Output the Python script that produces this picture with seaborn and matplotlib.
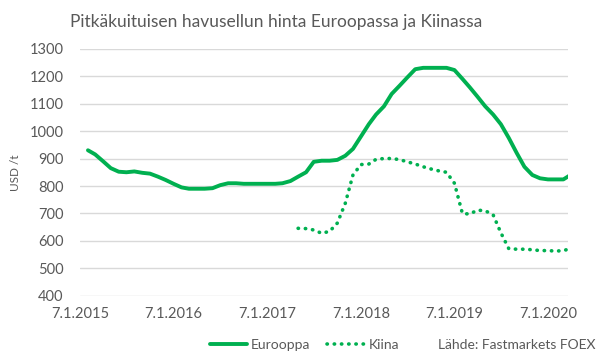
import pandas as pd
import matplotlib.pyplot as plt
import seaborn as sns

# Kuukausiarvot, USD/t (luettu kuvasta)
eurooppa_alku = '2015-01-07'
eurooppa = [930, 915, 890, 865, 852, 850, 853, 848, 845, 834, 822, 808,
            795, 790, 790, 790, 792, 803, 810, 810, 808, 808, 808, 808,
            808, 810, 818, 834, 850, 888, 892, 892, 895, 910, 935, 980,
            1025, 1060, 1090, 1135, 1165, 1195, 1225, 1230, 1230, 1230, 1230, 1222,
            1190, 1160, 1125, 1090, 1060, 1025, 975, 920, 870, 840, 828, 824,
            824, 824, 842]

kiina_alku = '2017-04-07'
kiina = [646, 645, 640, 628, 635, 665, 737, 840, 878,
         880, 897, 900, 900, 896, 888, 880, 870, 862, 855, 850, 810,
         700, 698, 712, 710, 695, 630, 572, 570, 570, 568, 565, 565,
         563, 565, 573]

tick_vuodet = [2015, 2016, 2017, 2018, 2019, 2020]

vihrea = '#00b050'
harmaa = '#595959'

df_eu = pd.DataFrame({'pvm': pd.date_range(eurooppa_alku, periods=len(eurooppa), freq='MS') + pd.Timedelta(days=6),
                      'hinta': eurooppa})
df_cn = pd.DataFrame({'pvm': pd.date_range(kiina_alku, periods=len(kiina), freq='MS') + pd.Timedelta(days=6),
                      'hinta': kiina})

sns.set_style('white')
plt.rcParams['font.family'] = ['Lato', 'DejaVu Sans']

fig = plt.figure(figsize=(5.98, 3.6), dpi=100)
ax = fig.add_axes([0.1338, 0.178, 0.816, 0.687])

sns.lineplot(data=df_eu, x='pvm', y='hinta', ax=ax, color=vihrea, linewidth=2.8,
             label='Eurooppa')
sns.lineplot(data=df_cn, x='pvm', y='hinta', ax=ax, color=vihrea, linewidth=2.6,
             label='Kiina')
cn_line = ax.lines[-1]
cn_line.set_linestyle((0, (0.1, 1.9)))
cn_line.set_dash_capstyle('round')

ax.set_ylim(400, 1300)
ax.set_yticks(range(400, 1301, 100))
ax.set_xlim(pd.Timestamp('2015-01-07'), pd.Timestamp('2020-03-25'))
ticks = [pd.Timestamp(f'{v}-01-07') for v in tick_vuodet]
ax.set_xticks(ticks)
ax.set_xticklabels([f'7.1.{v}' for v in tick_vuodet])
ax.grid(axis='y', color='#d9d9d9', linewidth=1)
ax.set_axisbelow(True)
for s in ax.spines.values():
    s.set_visible(False)
ax.tick_params(axis='both', length=0, labelsize=10.5, labelcolor=harmaa)
ax.tick_params(axis='x', pad=8)
ax.tick_params(axis='y', pad=12)
ax.set_xlabel('')
ax.set_ylabel('USD /t', fontsize=8.5, color=harmaa)
ax.yaxis.set_label_coords(-0.12, 0.5)

fig.text(0.117, 0.94, 'Pitkäkuituisen havusellun hinta Euroopassa ja Kiinassa',
         fontsize=12.5, color=harmaa, va='center', ha='left')

leg = ax.legend(loc='center', bbox_to_anchor=(0.46, -0.198), ncol=2, frameon=False,
                fontsize=10, handlelength=2.7, columnspacing=1.2, handletextpad=0.3)
for t in leg.get_texts():
    t.set_color(harmaa)

fig.text(0.995, 0.042, 'Lähde: Fastmarkets FOEX', fontsize=10, color=harmaa,
         ha='right', va='center')

fig.savefig('out.png', dpi=100)
